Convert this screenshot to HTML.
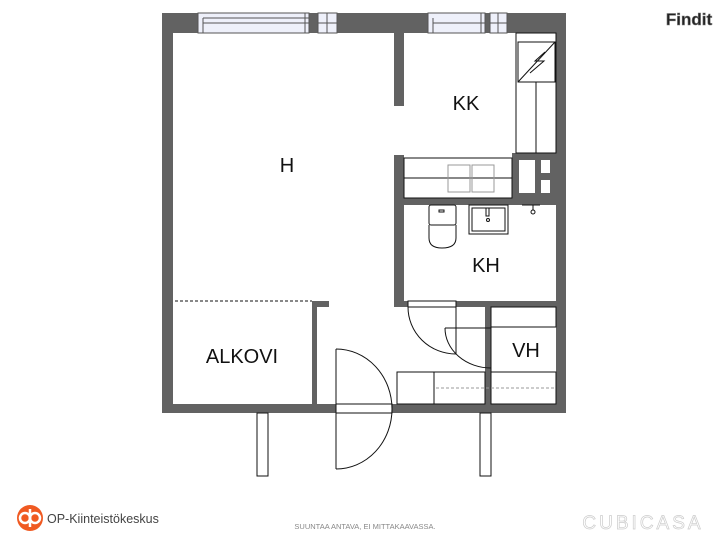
<!DOCTYPE html>
<html><head><meta charset="utf-8"><style>
html,body{margin:0;padding:0;background:#fff;width:728px;height:546px;overflow:hidden}
svg{display:block}
text{font-family:"Liberation Sans",sans-serif}
</style></head><body>
<svg width="728" height="546" viewBox="0 0 728 546" xmlns="http://www.w3.org/2000/svg">
<g fill="#626262">
<rect x="162" y="13" width="404" height="20"/>
<rect x="162" y="13" width="11" height="400"/>
<rect x="556" y="13" width="10" height="400"/>
<rect x="162" y="404" width="174" height="9"/>
<rect x="392" y="404" width="174" height="9"/>
<rect x="394" y="33" width="10" height="73"/>
<rect x="394" y="155" width="10" height="152"/>
<rect x="404" y="198" width="152" height="7"/>
<rect x="512" y="153" width="44" height="45"/>
<rect x="404" y="301" width="4" height="6"/>
<rect x="456" y="301" width="100" height="6"/>
<rect x="485" y="307" width="6" height="97"/>
<rect x="312" y="301" width="5" height="103"/>
<rect x="312" y="301" width="17" height="6"/>
</g>
<g fill="#fff">
<rect x="519" y="160" width="16" height="33"/>
<rect x="541" y="160" width="9" height="13"/>
<rect x="541" y="180" width="9" height="13"/>
</g>
<g fill="#eef0fa" stroke="#555" stroke-width="1">
<rect x="198" y="13" width="111" height="20"/>
<rect x="318" y="13" width="19" height="20"/>
<rect x="428" y="13" width="57" height="20"/>
<rect x="490" y="13" width="17" height="20"/>
</g>
<g stroke="#555" stroke-width="1" fill="none">
<line x1="203" y1="18" x2="203" y2="33"/><line x1="203" y1="18" x2="309" y2="18"/><line x1="203" y1="23" x2="309" y2="23"/><line x1="305" y1="13" x2="305" y2="33"/>
<line x1="327" y1="13" x2="327" y2="33"/><line x1="318" y1="23" x2="337" y2="23"/>
<line x1="433" y1="18" x2="433" y2="33"/><line x1="433" y1="23" x2="485" y2="23"/><line x1="481" y1="13" x2="481" y2="33"/>
<line x1="498" y1="13" x2="498" y2="33"/><line x1="490" y1="23" x2="507" y2="23"/>
</g>
<g stroke="#111" stroke-width="1" fill="none">
<rect x="516" y="33" width="40" height="120"/>
<rect x="518" y="42" width="37" height="40"/>
<polyline points="518,82 555,42"/>
<polyline points="530,73 544,61 535,61 545,52"/>
<line x1="536" y1="82" x2="536" y2="153"/>
<rect x="404" y="158" width="108" height="40"/>
<line x1="404" y1="178" x2="512" y2="178"/>
<rect x="448" y="165" width="22" height="27" stroke="#999"/>
<rect x="472" y="165" width="22" height="27" stroke="#999"/>
<rect x="429" y="205" width="27" height="20" rx="2"/>
<path d="M429,225 L429,238 Q429,248 442,248 Q456,248 456,238 L456,225"/>
<rect x="439" y="210" width="5" height="2"/>
<rect x="469" y="205" width="39" height="29"/>
<rect x="472" y="208" width="33" height="23"/>
<rect x="486" y="208" width="3" height="8"/>
<circle cx="488" cy="220" r="1.5"/>
<line x1="522" y1="205" x2="540" y2="205"/>
<circle cx="533" cy="212" r="2"/>
<line x1="533" y1="205" x2="533" y2="210"/>
<rect x="408" y="301" width="48" height="6"/>
<line x1="456" y1="307" x2="456" y2="354"/>
<path d="M408,307 A48,47 0 0 0 456,354"/>
<line x1="445" y1="328" x2="491" y2="328"/>
<path d="M445,328 A46,40 0 0 0 491,368"/>
<rect x="491" y="307" width="65" height="20"/>
<line x1="491" y1="327" x2="491" y2="372"/>
<rect x="397" y="372" width="88" height="32"/>
<line x1="434" y1="372" x2="434" y2="404"/>
<rect x="491" y="372" width="65" height="32"/>
<line x1="436" y1="388" x2="556" y2="388" stroke="#999" stroke-dasharray="3,2"/>
<line x1="175" y1="301" x2="312" y2="301" stroke-dasharray="3,2"/>
<rect x="336" y="404" width="56" height="9"/>
<line x1="336" y1="349" x2="336" y2="469"/>
<path d="M336,349 A56,60 0 0 1 392,409 A56,60 0 0 1 336,469"/>
<rect x="257" y="413" width="11" height="63"/>
<rect x="480" y="413" width="11" height="63"/>
</g>
<g font-size="20" fill="#111" text-anchor="middle">
<text x="287" y="172">H</text>
<text x="466" y="110">KK</text>
<text x="486" y="272">KH</text>
<text x="242" y="363">ALKOVI</text>
<text x="526" y="357">VH</text>
</g>
<text x="689" y="25" font-size="17" font-weight="bold" text-anchor="middle" fill="#222" stroke="#777" stroke-width="0.6">Findit</text>
<circle cx="30" cy="518" r="13" fill="#f05a22"/>
<circle cx="25" cy="518" r="5" fill="none" stroke="#fff" stroke-width="2.5"/>
<circle cx="35" cy="518" r="5" fill="none" stroke="#fff" stroke-width="2.5"/>
<line x1="30" y1="509" x2="30" y2="527" stroke="#fff" stroke-width="2.5"/>
<text x="47" y="523" font-size="12.5" fill="#444">OP-Kiinteistökeskus</text>
<text x="365" y="529" font-size="7.5" fill="#888" text-anchor="middle">SUUNTAA ANTAVA, EI MITTAKAAVASSA.</text>
<text x="643" y="529" font-size="19" fill="#fff" stroke="#ccc" stroke-width="0.7" text-anchor="middle" letter-spacing="3">CUBICASA</text>
</svg>
</body></html>
